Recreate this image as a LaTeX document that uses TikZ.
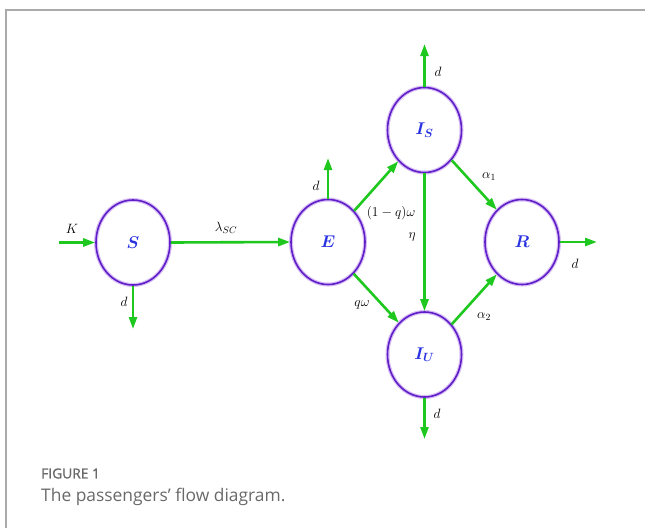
\RequirePackage{fix-cm}
\documentclass[tikz,border=0pt]{standalone}
\usepackage{amsmath}
\usepackage{fontspec}
\newfontfamily\capfont{Open Sans}
\newfontfamily\capbold[FakeBold=1.3]{Open Sans}
\usetikzlibrary{arrows.meta,shapes.geometric}
\definecolor{flowgreen}{RGB}{30,200,30}
\definecolor{ringpurple}{RGB}{95,30,200}
\definecolor{ringglow}{RGB}{215,190,245}
\definecolor{labelblue}{RGB}{40,50,225}
\definecolor{capgray}{RGB}{105,105,105}
\definecolor{framegray}{RGB}{170,170,170}
\tikzset{
  comp/.style={ellipse, minimum width=74pt, minimum height=85pt, inner sep=0pt,
    draw=ringpurple, line width=1.6pt, text=labelblue,
    font=\fontsize{17}{20}\selectfont,
    preaction={draw=ringglow, line width=4pt}},
  flow/.style={draw=flowgreen, line width=2.6pt,
    -{Triangle[length=12pt,width=8pt]}},
  rate/.style={font=\fontsize{13.5}{16}\selectfont, inner sep=1pt},
  captitle/.style={font=\capbold\fontsize{13.8}{16}\selectfont, text=capgray, anchor=west, inner sep=0pt},
  captext/.style={font=\capfont\fontsize{17.4}{20}\selectfont, text=capgray, anchor=west, inner sep=0pt}
}
\begin{document}
\begin{tikzpicture}[x=1pt,y=-1pt]
\useasboundingbox (0,0) rectangle (645,528);
\draw[framegray, line width=1.2pt] (6,528) -- (6,10) -- (645,10);

\node[comp] (S)  at (133,242.5) {$\boldsymbol{S}$};
\node[comp] (E)  at (328,242)   {$\boldsymbol{E}$};
\node[comp] (IS) at (424.5,130) {$\boldsymbol{I_S}$};
\node[comp] (IU) at (424.5,354.5) {$\boldsymbol{I_U}$};
\node[comp] (R)  at (522,242)   {$\boldsymbol{R}$};

\coordinate (Kin) at (59,242.5);
\coordinate (Sout) at (133,329);
\coordinate (Eout) at (328,158);
\coordinate (ISout) at (424.5,44);
\coordinate (IUout) at (424.5,439);
\coordinate (Rout) at (597,242);

\draw[flow] (Kin) -- (S.west);
\draw[flow] (S.east) -- (E.west);
\draw[flow] (S.south) -- (Sout);
\draw[flow] (E.north) -- (Eout);
\draw[flow] (E.50) -- (IS.230);
\draw[flow] (E.309) -- (IU.129);
\draw[flow] (IS.north) -- (ISout);
\draw[flow] (IS.south) -- (IU.north);
\draw[flow] (IS.312) -- (R.128);
\draw[flow] (IU.48) -- (R.232);
\draw[flow] (IU.south) -- (IUout);
\draw[flow] (R.east) -- (Rout);

\node[rate] (lK) at (72,229) {$K$};
\node[rate] (lSE) at (226,228) {$\lambda_{SC}$};
\node[rate] (lSd) at (124,302) {$d$};
\node[rate] (lEd) at (316,186) {$d$};
\node[rate] (lEIS) at (391,213) {$(1-q)\omega$};
\node[rate] (lISd) at (438,72) {$d$};
\node[rate] (leta) at (412,237) {$\eta$};
\node[rate] (la1) at (489,177) {$\alpha_1$};
\node[rate] (lEIU) at (362,305) {$q\omega$};
\node[rate] (la2) at (484,317) {$\alpha_2$};
\node[rate] (lRd) at (575,264) {$d$};
\node[rate] (lIUd) at (437,414) {$d$};

\node[captitle] (cap1) at (41,473.5) {FIGURE 1};
\node[captext] (cap2) at (41,496.5) {The passengers’ flow diagram.};
\end{tikzpicture}
\end{document}
